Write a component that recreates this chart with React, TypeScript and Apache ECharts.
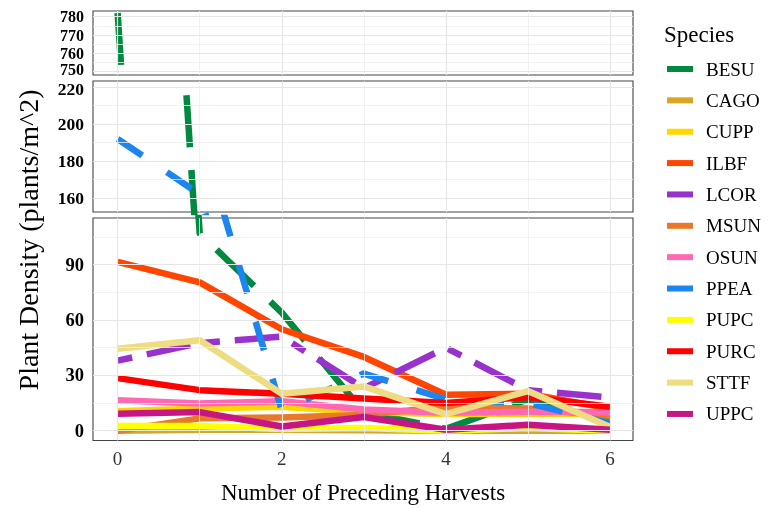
import React, { useEffect, useRef } from "react";
import * as echarts from "echarts";

// ---- data ----
const harvests = [0, 1, 2, 3, 4, 5, 6];
const species = ["BESU", "CAGO", "CUPP", "ILBF", "LCOR", "MSUN", "OSUN", "PPEA", "PUPC", "PURC", "STTF", "UPPC"];
const BESU = [782, 107, 64, 10, 1, 17, 7];
const CAGO = [0, 0.5, 0.5, 0.3, 0, 0, 0];
const CUPP = [10.5, 12, 13, 10, 9, 9, 9];
const ILBF = [91.5, 80.4, 55, 40, 19.5, 20, 12];
const LCOR = [38, 47.5, 51, 23, 45, 22, 18];
const MSUN = [0, 6.7, 7.2, 8.5, 13, 12, 8];
const OSUN = [16.5, 14.7, 16, 11.5, 9.8, 10.3, 10];
const PPEA = [192, 162, 11, 31, 17, 15, 4];
const PUPC = [2.5, 2.5, 1, 1.5, 0, 1.5, 0];
const PURC = [28.5, 22, 20, 17.5, 15, 18.3, 13];
const STTF = [44.4, 49, 20, 24, 9, 21.5, 2];
const UPPC = [9.2, 10.1, 2.3, 7.4, 0.5, 3.3, 0.5];
const speciesValues = [BESU, CAGO, CUPP, ILBF, LCOR, MSUN, OSUN, PPEA, PUPC, PURC, STTF, UPPC];
const speciesColors = ["#00893f", "#DAA520", "#FFD700", "#FF4500", "#9932CC", "#E8782A", "#FF69B4", "#1C86EE", "#FFFF00", "#FF0000", "#EEDC82", "#C71585"];
// line types (ggplot-like): longdash, dashed, twodash
const speciesDash: Record<string, number[]> = {
  BESU: [52, 22.8],
  PPEA: [29.7, 29.7],
  LCOR: [14.9, 14.9, 44.6, 14.9],
};

const xTicks = [0, 2, 4, 6];
const xMinor = [1, 3, 5];
const panelTicks = [
  [750, 760, 770, 780],
  [160, 180, 200, 220],
  [0, 30, 60, 90],
];
const panelMinor = [
  [755, 765, 775],
  [170, 190, 210],
  [15, 45, 75, 105],
];
const panelRanges = [
  [748.2, 783.1],
  [152.4, 223.4],
  [-5.3, 115.3],
];
const panelBoxes = [
  { top: 11, height: 64 },
  { top: 81, height: 131 },
  { top: 218, height: 222.5 },
];
const panelLabelSize = [16, 17.5, 18.5];

const FONT = "'Liberation Serif', 'DejaVu Serif', serif";

export default function App() {
  const ref = useRef<HTMLDivElement>(null);
  useEffect(() => {
    if (!ref.current) return;
    const chart = echarts.init(ref.current, null, { renderer: "svg" });
    const grids = panelBoxes.map((b) => ({
      left: 93,
      width: 540,
      top: b.top,
      height: b.height,
      show: true,
      borderColor: "#444",
      borderWidth: 1.1,
      backgroundColor: "#fff",
      containLabel: false,
      outerBoundsMode: "none",
    }));
    const xAxes = panelBoxes.map((_, g) => ({
      type: "value",
      gridIndex: g,
      min: -0.3,
      max: 6.28,
      show: g === 2,
      splitLine: { show: false },
      axisLine: { show: false },
      axisTick: { show: g === 2, customValues: xTicks, length: 4.5, lineStyle: { color: "#333", width: 1 } },
      axisLabel: { show: g === 2, customValues: xTicks, margin: 8, fontFamily: FONT, fontSize: 19, color: "#333", hideOverlap: false },
      name: g === 2 ? "Number of Preceding Harvests" : "",
      nameLocation: "middle",
      nameGap: 40,
      nameTextStyle: { fontFamily: FONT, fontSize: 23, color: "#000" },
    }));
    const yAxes = panelBoxes.map((_, g) => {
      const ticks = panelTicks[g];
      const lowest = ticks[0];
      const highest = ticks[ticks.length - 1];
      return {
        type: "value",
        gridIndex: g,
        min: panelRanges[g][0],
        max: panelRanges[g][1],
        splitLine: { show: false },
        axisLine: { show: false },
        axisTick: { show: true, customValues: ticks, length: 4.5, lineStyle: { color: "#333", width: 1 } },
        axisLabel: {
          customValues: ticks,
          margin: 9,
          fontFamily: FONT,
          fontSize: panelLabelSize[g],
          lineHeight: 14,
          fontWeight: "bold",
          color: "#000",
          hideOverlap: false,
          showMinLabel: true,
          showMaxLabel: true,
          formatter: (v: number) => {
            if (g === 0 && v === lowest) return `{up|${v}}`;
            if (g === 1 && v === highest) return `{down|${v}}`;
            return `${v}`;
          },
          rich: {
            up: { fontFamily: FONT, fontSize: panelLabelSize[g], fontWeight: "bold", color: "#000", padding: [0, 0, 4, 0] },
            down: { fontFamily: FONT, fontSize: panelLabelSize[g], fontWeight: "bold", color: "#000", padding: [3, 0, 0, 0] },
          },
        },
      };
    });
    const series: any[] = [];
    panelBoxes.forEach((_, g) => {
      series.push({
        type: "line",
        xAxisIndex: g,
        yAxisIndex: g,
        data: [],
        silent: true,
        z: 1,
        markLine: {
          silent: true,
          symbol: ["none", "none"],
          label: { show: false },
          animation: false,
          data: [
            ...xMinor.map((v) => ({ xAxis: v, lineStyle: { color: "#EFEFEF", width: 0.8, type: "solid" } })),
            ...panelMinor[g].map((v) => ({ yAxis: v, lineStyle: { color: "#EFEFEF", width: 0.8, type: "solid" } })),
            ...xTicks.map((v) => ({ xAxis: v, lineStyle: { color: "#E6E6E6", width: 1.2, type: "solid" } })),
            ...panelTicks[g].map((v) => ({ yAxis: v, lineStyle: { color: "#E6E6E6", width: 1.2, type: "solid" } })),
          ],
        },
      });
      species.forEach((name, i) => {
        series.push({
          type: "line",
          name,
          xAxisIndex: g,
          yAxisIndex: g,
          data: harvests.map((x, k) => [x, speciesValues[i][k]]),
          showSymbol: false,
          symbol: "none",
          clip: true,
          silent: true,
          z: 2,
          itemStyle: { color: speciesColors[i] },
          lineStyle: {
            color: speciesColors[i],
            width: 6.5,
            type: speciesDash[name] ? speciesDash[name] : "solid",
            dashOffset: 0,
            cap: "butt",
            join: "round",
          },
        });
      });
    });
    chart.setOption({
      animation: false,
      title: {
        text: "Species",
        left: 664,
        top: 23,
        padding: 0,
        textStyle: { fontFamily: FONT, fontSize: 23, fontWeight: "normal", color: "#000" },
      },
      legend: {
        data: species,
        orient: "vertical",
        left: 667,
        top: 59,
        padding: 0,
        icon: "rect",
        itemWidth: 26,
        itemHeight: 6,
        itemGap: 11.36,
        itemStyle: { borderWidth: 0 },
        textStyle: { fontFamily: FONT, fontSize: 19, lineHeight: 20, color: "#000", padding: [0, 0, 0, 8] },
        selectedMode: false,
      },
      grid: grids,
      xAxis: xAxes,
      yAxis: yAxes,
      graphic: [
        {
          type: "text",
          x: 28,
          y: 240,
          rotation: Math.PI / 2,
          style: {
            text: "Plant Density (plants/m^2)",
            font: `28px ${FONT}`,
            fill: "#000",
            textAlign: "center",
            textVerticalAlign: "middle",
          },
        },
      ],
      series,
    });
    return () => chart.dispose();
  }, []);
  return <div ref={ref} style={{ position: "fixed", left: 0, top: 0, width: 777, height: 508 }} />;
}
